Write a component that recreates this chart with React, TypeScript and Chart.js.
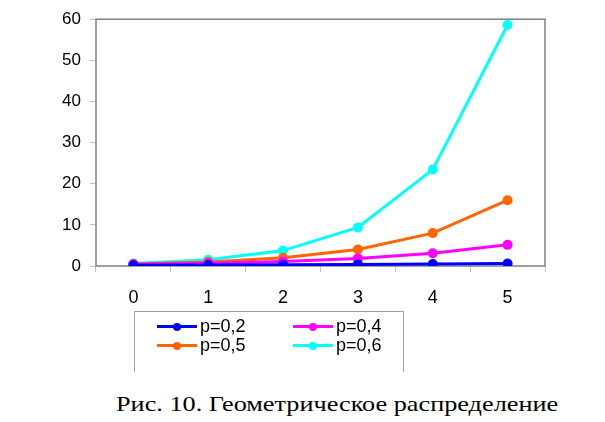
import React, { useEffect, useRef } from "react";
import { Chart, registerables } from "chart.js";

Chart.register(...registerables);

const categories = ["0", "1", "2", "3", "4", "5"];
const seriesNames = ["p=0,2", "p=0,4", "p=0,5", "p=0,6"];
const p02 = [0.2, 0.25, 0.31, 0.39, 0.49, 0.61];
const p04 = [0.4, 0.67, 1.11, 1.85, 3.09, 5.14];
const p05 = [0.5, 1, 2, 4, 8, 16];
const p06 = [0.6, 1.5, 3.75, 9.38, 23.44, 58.59];
const seriesColors = ["#0000FF", "#FF00FF", "#FF6600", "#00FFFF"];
const yTicks = [0, 10, 20, 30, 40, 50, 60];
const caption = "Рис. 10. Геометрическое распределение";

const FONT = "'Liberation Sans', Arial, sans-serif";

const boxPlugin = {
  id: "plotBox",
  beforeDatasetsDraw(chart: any) {
    const { ctx, chartArea } = chart;
    ctx.save();
    ctx.strokeStyle = "#808080";
    ctx.lineWidth = 1.5;
    ctx.strokeRect(chartArea.left, chartArea.top, chartArea.right - chartArea.left, chartArea.bottom - chartArea.top);
    ctx.restore();
  },
};

function LegendItem({ color, label }: { color: string; label: string }) {
  return (
    <div style={{ display: "flex", alignItems: "center", height: 19 }}>
      <div style={{ position: "relative", width: 40, height: 19, marginRight: 3 }}>
        <div style={{ position: "absolute", left: 0, top: 8, width: 40, height: 3, background: color }} />
        <div style={{ position: "absolute", left: 16, top: 5.5, width: 8, height: 8, borderRadius: 4, background: color }} />
      </div>
      <span style={{ fontFamily: FONT, fontSize: 18, color: "#000", lineHeight: "19px" }}>{label}</span>
    </div>
  );
}

export default function App() {
  const ref = useRef<HTMLCanvasElement>(null);
  useEffect(() => {
    const all = [p02, p04, p05, p06];
    const chart = new Chart(ref.current!, {
      type: "line",
      data: {
        labels: categories,
        datasets: all.map((d, i) => ({
          label: seriesNames[i],
          data: d,
          borderColor: seriesColors[i],
          backgroundColor: seriesColors[i],
          borderWidth: 3,
          pointRadius: 5,
          pointBorderWidth: 0,
          tension: 0,
        })),
      },
      options: {
        responsive: false,
        animation: false,
        layout: { padding: { left: 0, right: 60, top: 18, bottom: 0 } },
        plugins: { legend: { display: false }, tooltip: { enabled: false } },
        scales: {
          x: {
            type: "category",
            offset: true,
            grid: { offset: true, drawOnChartArea: false, drawTicks: true, tickLength: 6, color: "#c0c0c0" },
            border: { display: false },
            ticks: { color: "#000", font: { family: FONT, size: 18 }, padding: 15 },
            afterFit: (s: any) => { s.height = 54; },
          },
          y: {
            min: 0,
            max: 60,
            afterBuildTicks: (s: any) => { s.ticks = yTicks.map((v) => ({ value: v })); },
            grid: { drawOnChartArea: false, drawTicks: true, tickLength: 6, color: "#c0c0c0" },
            border: { display: false },
            ticks: { color: "#000", font: { family: FONT, size: 17 }, padding: 9 },
            afterFit: (s: any) => { s.width = 96; },
          },
        },
      },
      plugins: [boxPlugin],
    });
    return () => chart.destroy();
  }, []);

  return (
    <div style={{ position: "fixed", left: 0, top: 0, width: 605, height: 422, background: "#fff", overflow: "hidden" }}>
      <canvas ref={ref} width={605} height={320} style={{ position: "absolute", left: 0, top: 0 }} />
      <div
        style={{
          position: "absolute",
          left: 134,
          top: 311,
          width: 268,
          height: 60,
          borderTop: "1.5px solid #a0a0a0",
          borderLeft: "1.5px solid #a0a0a0",
          borderRight: "1.5px solid #a0a0a0",
        }}
      >
        <div style={{ position: "absolute", left: 22, top: 5 }}>
          <LegendItem color={seriesColors[0]} label={seriesNames[0]} />
          <LegendItem color={seriesColors[2]} label={seriesNames[2]} />
        </div>
        <div style={{ position: "absolute", left: 158, top: 5 }}>
          <LegendItem color={seriesColors[1]} label={seriesNames[1]} />
          <LegendItem color={seriesColors[3]} label={seriesNames[3]} />
        </div>
      </div>
      <div
        style={{
          position: "absolute",
          left: 116,
          top: 392,
          fontFamily: "'Liberation Serif', 'Times New Roman', serif",
          fontSize: 21,
          color: "#000",
          whiteSpace: "nowrap",
          lineHeight: "24px",
          transform: "scaleX(1.25)",
          transformOrigin: "left top",
        }}
      >
        {caption}
      </div>
    </div>
  );
}
